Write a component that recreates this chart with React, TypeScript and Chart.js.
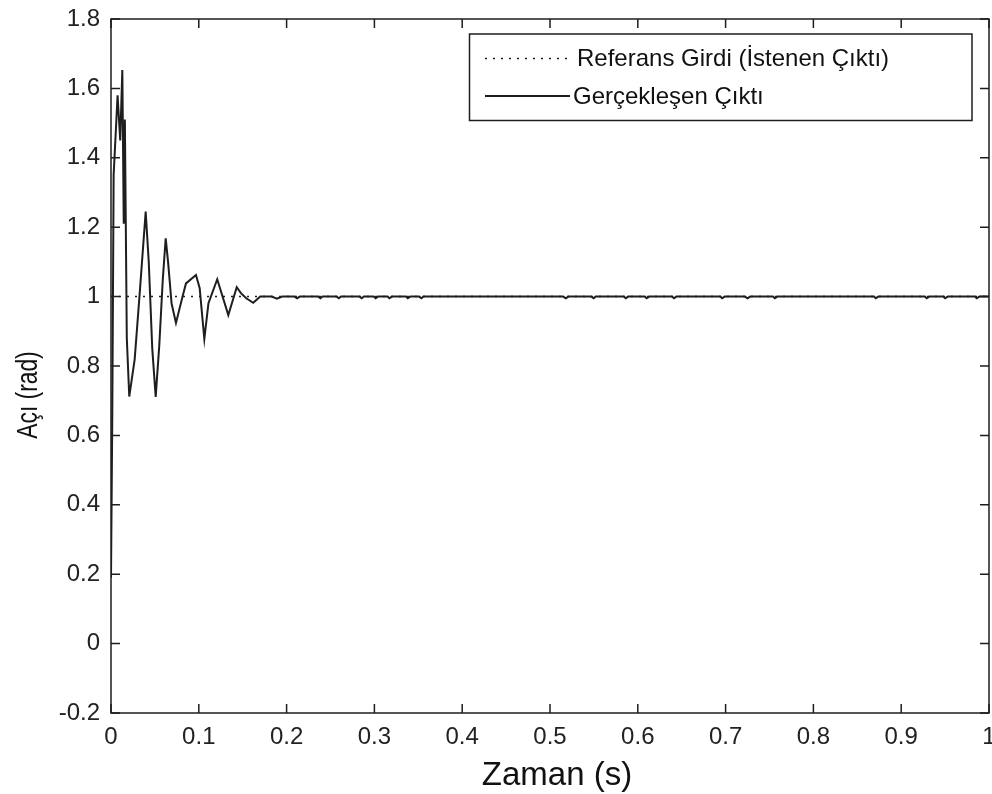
import React, { useEffect, useRef } from "react";
import { Chart, registerables } from "chart.js";

Chart.register(...registerables);

// ---------- DATA ----------
const seriesLabels = ["Referans Girdi (İstenen Çıktı)", "Gerçekleşen Çıktı"];

const referenceTime = [0, 1];
const referenceValues = [1, 1];

const outputTime = [
  0, 0.0015, 0.003, 0.0075, 0.0105, 0.0129, 0.0145, 0.0158, 0.018, 0.0208,
  0.027, 0.033, 0.0395, 0.043, 0.047, 0.0509, 0.055, 0.059, 0.0623, 0.065, 0.069, 0.074,
  0.0815, 0.0854, 0.0968, 0.101, 0.1063, 0.111, 0.121, 0.1336, 0.1432, 0.148, 0.154, 0.162,
  0.17, 0.183, 0.189, 0.195,
  0.209, 0.212, 0.215, 0.236, 0.2386, 0.241, 0.257, 0.2596, 0.262, 0.283, 0.2856, 0.288,
  0.299, 0.3014, 0.304, 0.315, 0.317, 0.32, 0.336, 0.338, 0.341, 0.351, 0.3536, 0.356,
  0.515, 0.518, 0.521, 0.547, 0.5498, 0.552, 0.584, 0.5863, 0.589, 0.608, 0.61, 0.613,
  0.639, 0.6412, 0.644, 0.694, 0.696, 0.699, 0.722, 0.725, 0.728, 0.754, 0.756, 0.759,
  0.869, 0.871, 0.874, 0.927, 0.929, 0.932, 0.948, 0.95, 0.953, 0.984, 0.986, 0.989, 1,
];

const outputValues = [
  0.19, 0.67, 1.35, 1.58, 1.45, 1.653, 1.21, 1.51, 0.88, 0.712,
  0.82, 1.02, 1.245, 1.1, 0.85, 0.711, 0.86, 1.05, 1.168, 1.1, 0.98, 0.924,
  1.0, 1.038, 1.062, 1.024, 0.878, 0.981, 1.05, 0.947, 1.027, 1.01, 0.995, 0.982,
  1.0, 1.0, 0.994, 1.0,
  1.0, 0.995, 1.0, 1.0, 0.995, 1.0, 1.0, 0.995, 1.0, 1.0, 0.995, 1.0,
  1.0, 0.995, 1.0, 1.0, 0.995, 1.0, 1.0, 0.995, 1.0, 1.0, 0.995, 1.0,
  1.0, 0.995, 1.0, 1.0, 0.995, 1.0, 1.0, 0.995, 1.0, 1.0, 0.995, 1.0,
  1.0, 0.995, 1.0, 1.0, 0.995, 1.0, 1.0, 0.995, 1.0, 1.0, 0.995, 1.0,
  1.0, 0.995, 1.0, 1.0, 0.995, 1.0, 1.0, 0.995, 1.0, 1.0, 0.995, 1.0, 1.0,
];

const xTickValues = [0, 0.1, 0.2, 0.3, 0.4, 0.5, 0.6, 0.7, 0.8, 0.9, 1];
const xTickLabels = ["0", "0.1", "0.2", "0.3", "0.4", "0.5", "0.6", "0.7", "0.8", "0.9", "1"];
const yTickValues = [-0.2, 0, 0.2, 0.4, 0.6, 0.8, 1, 1.2, 1.4, 1.6, 1.8];
const yTickLabels = ["-0.2", "0", "0.2", "0.4", "0.6", "0.8", "1", "1.2", "1.4", "1.6", "1.8"];

const xTitle = "Zaman (s)";
const yTitle = "Açı (rad)";

// ---------- STYLE ----------
const FONT = "'Liberation Sans', Arial, sans-serif";
const INK = "#1e1e1e";

const boxAndTicksPlugin = {
  id: "boxAndTicks",
  afterDatasetsDraw(chart: any) {
    const { ctx, chartArea } = chart;
    const { left, right, top, bottom } = chartArea;
    const xs = chart.scales.x;
    const ys = chart.scales.y;
    const len = 9;
    ctx.save();
    ctx.strokeStyle = INK;
    ctx.lineWidth = 1.5;
    ctx.setLineDash([]);
    ctx.beginPath();
    for (const v of xTickValues) {
      const px = xs.getPixelForValue(v);
      ctx.moveTo(px, bottom);
      ctx.lineTo(px, bottom - len);
      ctx.moveTo(px, top);
      ctx.lineTo(px, top + len);
    }
    for (const v of yTickValues) {
      const py = ys.getPixelForValue(v);
      ctx.moveTo(left, py);
      ctx.lineTo(left + len, py);
      ctx.moveTo(right, py);
      ctx.lineTo(right - len, py);
    }
    ctx.stroke();
    ctx.strokeRect(left, top, right - left, bottom - top);
    ctx.restore();
  },
};

const titlesPlugin = {
  id: "axisTitles",
  afterDraw(chart: any) {
    const { ctx } = chart;
    ctx.save();
    ctx.fillStyle = "#111";
    ctx.textAlign = "center";
    ctx.textBaseline = "middle";
    ctx.font = `33px ${FONT}`;
    ctx.fillText(xTitle, 557, 776);
    ctx.translate(29, 395);
    ctx.rotate(-Math.PI / 2);
    ctx.scale(0.76, 1);
    ctx.font = `30px ${FONT}`;
    ctx.fillText(yTitle, 0, 0);
    ctx.restore();
  },
};

const legendPlugin = {
  id: "matlabLegend",
  afterDraw(chart: any) {
    const { ctx } = chart;
    const ds = chart.data.datasets;
    const bx = 469.5, by = 34, bw = 502.5, bh = 86.5;
    ctx.save();
    ctx.fillStyle = "#ffffff";
    ctx.fillRect(bx, by, bw, bh);
    ctx.strokeStyle = INK;
    ctx.lineWidth = 1.5;
    ctx.setLineDash([]);
    ctx.strokeRect(bx, by, bw, bh);

    const rows = [
      { y: 58.5, dash: [2, 6], width: 1.5 },
      { y: 96, dash: [], width: 2 },
    ];
    rows.forEach((r, i) => {
      ctx.beginPath();
      ctx.setLineDash(r.dash);
      ctx.lineWidth = r.width;
      ctx.strokeStyle = INK;
      ctx.moveTo(485, r.y);
      ctx.lineTo(570, r.y);
      ctx.stroke();
      ctx.setLineDash([]);
      ctx.fillStyle = "#111";
      ctx.font = `24px ${FONT}`;
      ctx.textBaseline = "middle";
      ctx.textAlign = "left";
      ctx.fillText(ds[i].label, i === 0 ? 577 : 573, r.y + 1);
    });
    ctx.restore();
  },
};

export default function App() {
  const canvasRef = useRef<HTMLCanvasElement | null>(null);

  useEffect(() => {
    if (!canvasRef.current) return;
    const refData = referenceTime.map((t, i) => ({ x: t, y: referenceValues[i] }));
    const outData = outputTime.map((t, i) => ({ x: t, y: outputValues[i] }));

    const chart = new Chart(canvasRef.current, {
      type: "line",
      data: {
        datasets: [
          {
            label: seriesLabels[0],
            data: refData,
            borderColor: INK,
            borderWidth: 1.5,
            borderDash: [2, 6],
            pointRadius: 0,
            tension: 0,
          },
          {
            label: seriesLabels[1],
            data: outData,
            borderColor: INK,
            borderWidth: 2,
            pointRadius: 0,
            tension: 0,
          },
        ],
      },
      options: {
        animation: false,
        responsive: true,
        maintainAspectRatio: false,
        layout: { padding: { top: 19, right: 3, left: 0, bottom: 0 } },
        plugins: {
          legend: { display: false },
          tooltip: { enabled: false },
        },
        scales: {
          x: {
            type: "linear",
            min: 0,
            max: 1,
            grid: { display: false, drawTicks: false },
            border: { display: false },
            afterBuildTicks: (scale: any) => {
              scale.ticks = xTickValues.map((v) => ({ value: v }));
            },
            afterFit: (scale: any) => {
              scale.height = 81;
              scale.paddingLeft = 0;
              scale.paddingRight = 0;
            },
            ticks: {
              autoSkip: false,
              maxRotation: 0,
              padding: 10,
              color: "#222",
              font: { family: FONT, size: 24 },
              callback: (_v: any, i: number) => xTickLabels[i],
            },
            title: { display: false },
          },
          y: {
            type: "linear",
            min: -0.2,
            max: 1.8,
            grid: { display: false, drawTicks: false },
            border: { display: false },
            afterBuildTicks: (scale: any) => {
              scale.ticks = yTickValues.map((v) => ({ value: v }));
            },
            afterFit: (scale: any) => {
              scale.width = 111;
              scale.paddingTop = 0;
              scale.paddingBottom = 0;
            },
            ticks: {
              autoSkip: false,
              padding: 11,
              color: "#222",
              font: { family: FONT, size: 24 },
              callback: (_v: any, i: number) => yTickLabels[i],
            },
            title: { display: false },
          },
        },
      },
      plugins: [boxAndTicksPlugin, titlesPlugin, legendPlugin],
    } as any);

    return () => chart.destroy();
  }, []);

  return (
    <div
      style={{
        position: "fixed",
        left: 0,
        top: 0,
        width: "992px",
        height: "794px",
        background: "#ffffff",
      }}
    >
      <canvas ref={canvasRef} />
    </div>
  );
}
